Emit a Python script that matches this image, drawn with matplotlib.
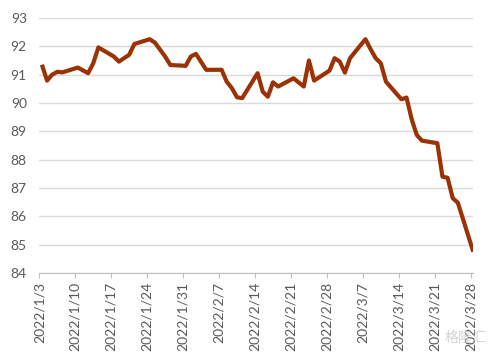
import numpy as np
import pandas as pd
import matplotlib
matplotlib.use('Agg')
import matplotlib.pyplot as plt

plt.rcParams['font.family'] = ['Lato', 'DejaVu Sans']

dates = ['2022-01-03', '2022-01-04', '2022-01-05', '2022-01-06', '2022-01-07',
         '2022-01-10', '2022-01-12', '2022-01-13', '2022-01-14', '2022-01-17',
         '2022-01-18', '2022-01-20', '2022-01-21', '2022-01-24', '2022-01-25',
         '2022-01-27', '2022-01-28', '2022-01-31', '2022-02-01', '2022-02-02',
         '2022-02-04', '2022-02-07', '2022-02-08', '2022-02-09', '2022-02-10',
         '2022-02-11', '2022-02-14', '2022-02-15', '2022-02-16', '2022-02-17',
         '2022-02-18', '2022-02-21', '2022-02-23', '2022-02-24', '2022-02-25',
         '2022-02-28', '2022-03-01', '2022-03-02', '2022-03-03', '2022-03-04',
         '2022-03-07', '2022-03-08', '2022-03-09', '2022-03-10', '2022-03-11',
         '2022-03-14', '2022-03-15', '2022-03-16', '2022-03-17', '2022-03-18',
         '2022-03-21', '2022-03-22', '2022-03-23', '2022-03-24', '2022-03-25',
         '2022-03-28']
values = [91.35, 90.79, 91.00, 91.10, 91.08,
          91.25, 91.05, 91.40, 91.96, 91.64,
          91.46, 91.70, 92.08, 92.25, 92.13,
          91.64, 91.34, 91.31, 91.64, 91.73,
          91.17, 91.17, 90.75, 90.52, 90.20,
          90.17, 91.05, 90.40, 90.22, 90.73,
          90.58, 90.87, 90.58, 91.50, 90.79,
          91.14, 91.58, 91.46, 91.07, 91.58,
          92.25, 91.90, 91.58, 91.40, 90.75,
          90.13, 90.19, 89.43, 88.87, 88.67,
          88.58, 87.40, 87.36, 86.64, 86.48,
          84.75]
tick_dates = ['2022-01-03', '2022-01-10', '2022-01-17', '2022-01-24', '2022-01-31',
              '2022-02-07', '2022-02-14', '2022-02-21', '2022-02-28', '2022-03-07',
              '2022-03-14', '2022-03-21', '2022-03-28']
yticks = [84, 85, 86, 87, 88, 89, 90, 91, 92, 93]

# points sit in the middle of each day, like an Excel date axis
x = pd.to_datetime(dates) + pd.Timedelta(hours=12)
ticks = pd.to_datetime(tick_dates)
tick_labels = [f'{d.year}/{d.month}/{d.day}' for d in ticks]

fig = plt.figure(figsize=(4.94, 3.59), dpi=100)
ax = fig.add_axes([0.0796, 0.2396, 0.878, 0.7104])

ax.plot(x, values, color='#9A3204', lw=3, solid_joinstyle='round', solid_capstyle='butt', zorder=3)

ax.set_ylim(84, 93)
ax.set_yticks(yticks)
ax.set_xlim(ticks[0], ticks[-1] + pd.Timedelta(hours=11))
ax.set_xticks(ticks)
ax.set_xticklabels(tick_labels, rotation=90)

ax.grid(axis='y', color='#D9D9D9', lw=1)
ax.set_axisbelow(True)
for s in ['left', 'right', 'top']:
    ax.spines[s].set_visible(False)
ax.spines['bottom'].set_color('#BFBFBF')
ax.tick_params(axis='y', length=0, pad=9, labelsize=10, labelcolor='#595959')
ax.tick_params(axis='x', direction='out', length=3.5, color='#BFBFBF', pad=3,
               labelsize=10, labelcolor='#595959')

fig.text(0.985, 0.04, '格隆汇', ha='right', va='bottom', fontsize=10,
         color='#C8C8C8', alpha=0.8, family=['Noto Sans CJK SC', 'DejaVu Sans'])

fig.savefig('out.png', dpi=100)
